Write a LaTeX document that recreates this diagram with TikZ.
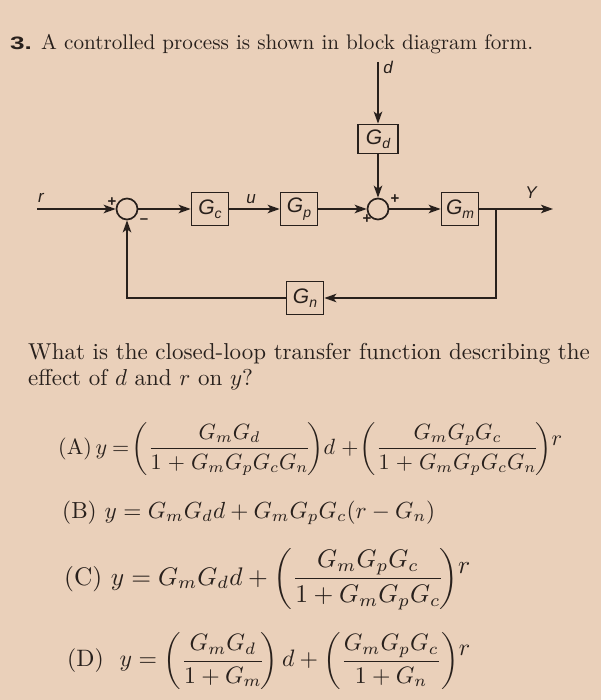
\documentclass[tikz,border=0pt]{standalone}
\usepackage{amsmath}
\usepackage{graphicx}
\usepackage{fontspec}
\newfontfamily\diagfont{Liberation Sans}
\usetikzlibrary{arrows.meta}
\definecolor{ink}{RGB}{40,32,28}
\definecolor{paper}{RGB}{234,208,186}
\newcommand\blk[2]{{\diagfont\itshape\fontsize{21}{21}\selectfont #1\raisebox{-4.5pt}{\fontsize{14}{14}\selectfont #2}}}
\newcommand\dlab[1]{{\diagfont\itshape\fontsize{17}{17}\selectfont #1}}
\newcommand\sgn[1]{{\diagfont\bfseries\fontsize{15}{15}\selectfont #1}}
\newcommand\rr{\raisebox{1.1ex}{$r$}}
\begin{document}
\begin{tikzpicture}[x=1pt,y=-1pt,
  blockbox/.style={draw=ink, line width=1.7pt, minimum width=37pt, minimum height=33pt, inner sep=0pt, text=ink},
  sumnode/.style={circle, draw=ink, line width=1.7pt, minimum size=21pt, inner sep=0pt},
  conn/.style={draw=ink, line width=1.7pt, -{Stealth[length=12pt,width=8.5pt,inset=3pt]}},
  lbl/.style={text=ink, inner sep=0pt}]
\fill[paper] (0,0) rectangle (601,700);
\useasboundingbox (0,0) rectangle (601,700);

% title
\node[lbl, anchor=base west] (num) at (10,50) {\scalebox{1.45}[1]{\diagfont\bfseries\fontsize{18}{18}\selectfont 3.}};
\node[lbl, anchor=base west] (title) at (41,50) {\resizebox{492pt}{!}{A controlled process is shown in block diagram form.}};

% diagram
\node[sumnode] (s1) at (127,209) {};
\node[blockbox] (gc) at (210,209) {\blk{G}{c}};
\node[blockbox] (gp) at (299,209) {\blk{G}{p}};
\node[sumnode] (s2) at (378,209) {};
\node[blockbox] (gm) at (460,209) {\blk{G}{m}};
\node[blockbox] (gn) at (305,298) {\blk{G}{n}};
\node[blockbox, minimum width=40pt, minimum height=29pt] (gd) at (378,139) {\blk{G}{d}};

\coordinate (rin) at (37,209);
\coordinate (yout) at (553,209);
\coordinate (br) at (496,209);
\coordinate (brd) at (496,298);
\coordinate (fbl) at (127,298);
\coordinate (dtop) at (378,62);

\draw[conn] (rin) -- (s1);
\draw[conn] (s1) -- (gc);
\draw[conn] (gc) -- (gp);
\draw[conn] (gp) -- (s2);
\draw[conn] (s2) -- (gm);
\draw[conn] (gm) -- (yout);
\draw[conn] (br) -- (brd) -- (gn);
\draw[conn] (gn) -- (fbl) -- (s1);
\draw[conn] (dtop) -- (gd);
\draw[conn] (gd) -- (s2);

\node[lbl] (rlab) at (41,198) {\dlab{r}};
\node[lbl] (ulab) at (251,199) {\dlab{u}};
\node[lbl] (ylab) at (531,193) {\dlab{Y}};
\node[lbl] (dlab) at (388,67) {\dlab{d}};
\node[lbl] (p1) at (112,202) {\sgn{+}};
\node[lbl] (m1) at (144,221) {\sgn{–}};
\node[lbl] (p2) at (367,219) {\sgn{+}};
\node[lbl] (p3) at (395,199) {\sgn{+}};

% question
\node[lbl, anchor=base west] (q1) at (28,359) {\scalebox{2.3}{What is the closed-loop transfer function describing the}};
\node[lbl, anchor=base west] (q2) at (28,385) {\scalebox{2.3}{effect of $d$ and $r$ on $y$?}};

% answers
\node[lbl, anchor=west] (ea) at (58,449) {\resizebox{504pt}{!}{(A)\,$y\mkern-1mu=\!\left(\dfrac{G_mG_d}{1\mkern1mu+\mkern1mu G_mG_pG_cG_n}\!\right)\!d\mkern1mu+\!\left(\dfrac{G_mG_pG_c}{1\mkern1mu+\mkern1mu G_mG_pG_cG_n}\!\right)\!\raisebox{0.9ex}{$r$}$}};
\node[lbl, anchor=west] (eb) at (62,513) {\resizebox{373pt}{!}{(B)\ $y=G_mG_dd+G_mG_pG_c(r-G_n)$}};
\node[lbl, anchor=west] (ec) at (64,579) {\resizebox{406pt}{!}{(C)\ $y=G_mG_dd+\left(\dfrac{G_mG_pG_c}{1+G_mG_pG_c}\!\right)\!\rr$}};
\node[lbl, anchor=west] (ed) at (67,661) {\resizebox{403pt}{!}{(D)\ \ $y=\left(\dfrac{G_mG_d}{1+G_m}\!\right)d+\left(\dfrac{G_mG_pG_c}{1+G_n}\right)\!\rr$}};
\end{tikzpicture}
\end{document}
